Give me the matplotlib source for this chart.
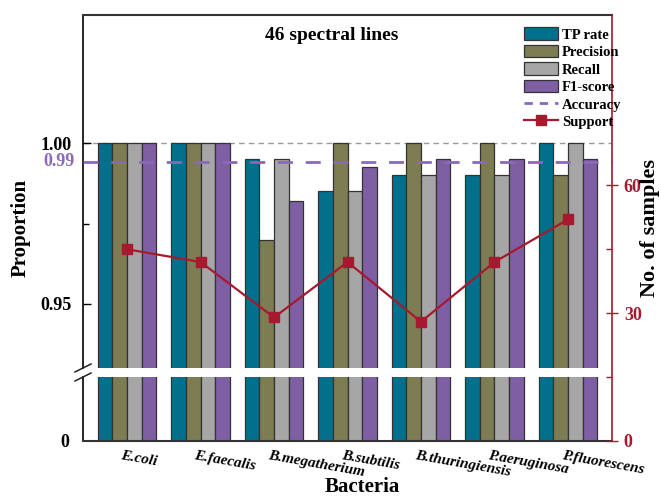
import numpy as np
import matplotlib
matplotlib.use("Agg")
import matplotlib.pyplot as plt
from matplotlib.patches import Patch
from matplotlib.lines import Line2D
from matplotlib.transforms import ScaledTranslation

plt.rcParams['font.family'] = ['Liberation Serif', 'DejaVu Serif']
plt.rcParams['font.weight'] = 'bold'

# dane
bacteria = ['E.coli', 'E.faecalis', 'B.megatherium', 'B.subtilis',
            'B.thuringiensis', 'P.aeruginosa', 'P.fluorescens']
tp_rate = [1.000, 1.000, 0.995, 0.985, 0.990, 0.990, 1.000]
precision = [1.000, 1.000, 0.970, 1.000, 1.000, 1.000, 0.990]
recall = [1.000, 1.000, 0.995, 0.985, 0.990, 0.990, 1.000]
f1_score = [1.000, 1.000, 0.982, 0.9925, 0.995, 0.995, 0.995]
support = [45, 42, 29, 42, 28, 42, 52]
accuracy = 0.9943

metrics = [tp_rate, precision, recall, f1_score]
metric_names = ['TP rate', 'Precision', 'Recall', 'F1-score']
colors = ['#00708C', '#7E7C52', '#A6A6A6', '#7F5FA3']
acc_color = '#8B68B8'
sup_color = '#A6192E'

x = np.arange(len(bacteria))
w = 0.2

fig = plt.figure(figsize=(6.61, 4.96), dpi=100)
L, W = 0.1256, 0.8003
ax_top = fig.add_axes([L, 0.258, W, 0.712])
ax_bot = fig.add_axes([L, 0.1109, W, 0.129])
ax_r = fig.add_axes([L, 0.1109, W, 0.859])
ax_r.patch.set_alpha(0)

for ax in (ax_top, ax_bot):
    for i, vals in enumerate(metrics):
        ax.bar(x + (i - 1.5) * w, vals, w, color=colors[i],
               edgecolor='#333333', linewidth=0.9, zorder=2)
    ax.set_xlim(-0.6, 6.6)

ax_top.set_ylim(0.93, 1.04)
ax_bot.set_ylim(0, 0.3)

# linie odniesienia
ax_top.axhline(1.0, color='#9A9A9A', lw=1, dashes=(4, 3), zorder=1)
ax_top.axhline(accuracy, color=acc_color, lw=2, dashes=(5.4, 4.6), zorder=4)

# osie lewe
ax_top.spines['bottom'].set_visible(False)
ax_top.spines['right'].set_visible(False)
ax_bot.spines['top'].set_visible(False)
ax_bot.spines['right'].set_visible(False)
for ax in (ax_top, ax_bot):
    ax.spines['left'].set_linewidth(1.2)
ax_top.spines['top'].set_linewidth(1.5)
ax_top.spines['top'].set_color('#333333')
ax_bot.spines['bottom'].set_linewidth(1.5)
ax_bot.spines['bottom'].set_color('#333333')

ax_top.set_xticks([])
ax_top.set_yticks([0.95, 1.00])
ax_top.set_yticklabels(['0.95', '1.00'])
ax_top.set_yticks([0.975], minor=True)
ax_top.tick_params(axis='y', which='major', direction='in', length=6,
                   width=1, labelsize=13, pad=8)
ax_top.tick_params(axis='y', which='minor', direction='in', length=4, width=1)

ax_bot.set_yticks([0])
ax_bot.set_yticklabels(['0'])
ax_bot.tick_params(axis='y', direction='in', length=0, labelsize=13, pad=10)

ax_bot.set_xticks(x)
labels = ax_bot.set_xticklabels(bacteria, rotation=-10, ha='left',
                                rotation_mode='anchor', style='italic',
                                fontsize=11)
ax_bot.tick_params(axis='x', length=0, pad=6)
for lab in labels:
    lab.set_transform(lab.get_transform() +
                      ScaledTranslation(-0.05, 0, fig.dpi_scale_trans))

# etykieta dokładności
ax_top.text(-0.015, accuracy, f'{accuracy:.2f}', color=acc_color,
            fontsize=13, ha='right', va='center',
            transform=ax_top.get_yaxis_transform())

# znaczniki przerwania osi
d = dict(color='#222222', lw=1.1, clip_on=False, transform=fig.transFigure)
for yb in (368, 377):
    yf = 1 - yb / 496
    fig.add_artist(Line2D([75 / 661, 91 / 661], [yf - 0.008, yf + 0.008], **d))

# oś prawa - liczba próbek
ax_r.plot(x, support, color=sup_color, lw=1.6, marker='s', ms=7, zorder=5)
ax_r.set_xlim(-0.6, 6.6)
ax_r.set_ylim(0, 100)
for s in ('left', 'top', 'bottom'):
    ax_r.spines[s].set_visible(False)
ax_r.spines['right'].set_color(sup_color)
ax_r.spines['right'].set_linewidth(1.2)
ax_r.set_xticks([])
ax_r.yaxis.tick_right()
ax_r.set_yticks([0, 30, 60])
ax_r.set_yticks([15, 45], minor=True)
ax_r.tick_params(axis='y', which='major', direction='inout', length=9,
                 width=1, colors=sup_color, labelsize=13, pad=4)
ax_r.tick_params(axis='y', which='minor', direction='in', length=4,
                 width=1, colors=sup_color)

# podpisy
fig.text(332 / 661, 1 - 36 / 496, '46 spectral lines', fontsize=14,
         ha='center', va='center')
fig.text(21 / 661, 1 - 228 / 496, 'Proportion', fontsize=15,
         rotation=90, ha='center', va='center')
fig.text(362 / 661, 1 - 487 / 496, 'Bacteria', fontsize=15,
         ha='center', va='center')
fig.text(650 / 661, 1 - 228 / 496, 'No. of samples', fontsize=16,
         rotation=90, ha='center', va='center')

handles = [Patch(facecolor=c, edgecolor='#333333', lw=0.9) for c in colors]
handles.append(Line2D([], [], color=acc_color, lw=2, dashes=(3, 2.5)))
handles.append(Line2D([], [], color=sup_color, lw=1.6, marker='s', ms=7))
fig.legend(handles, metric_names + ['Accuracy', 'Support'],
           loc='upper left', bbox_to_anchor=(514 / 661, 1 - 17 / 496),
           frameon=False, fontsize=10.5, handlelength=2.3, handleheight=0.95,
           labelspacing=0.22, handletextpad=0.3, borderpad=0.2)

fig.savefig('out.png', dpi=100)
